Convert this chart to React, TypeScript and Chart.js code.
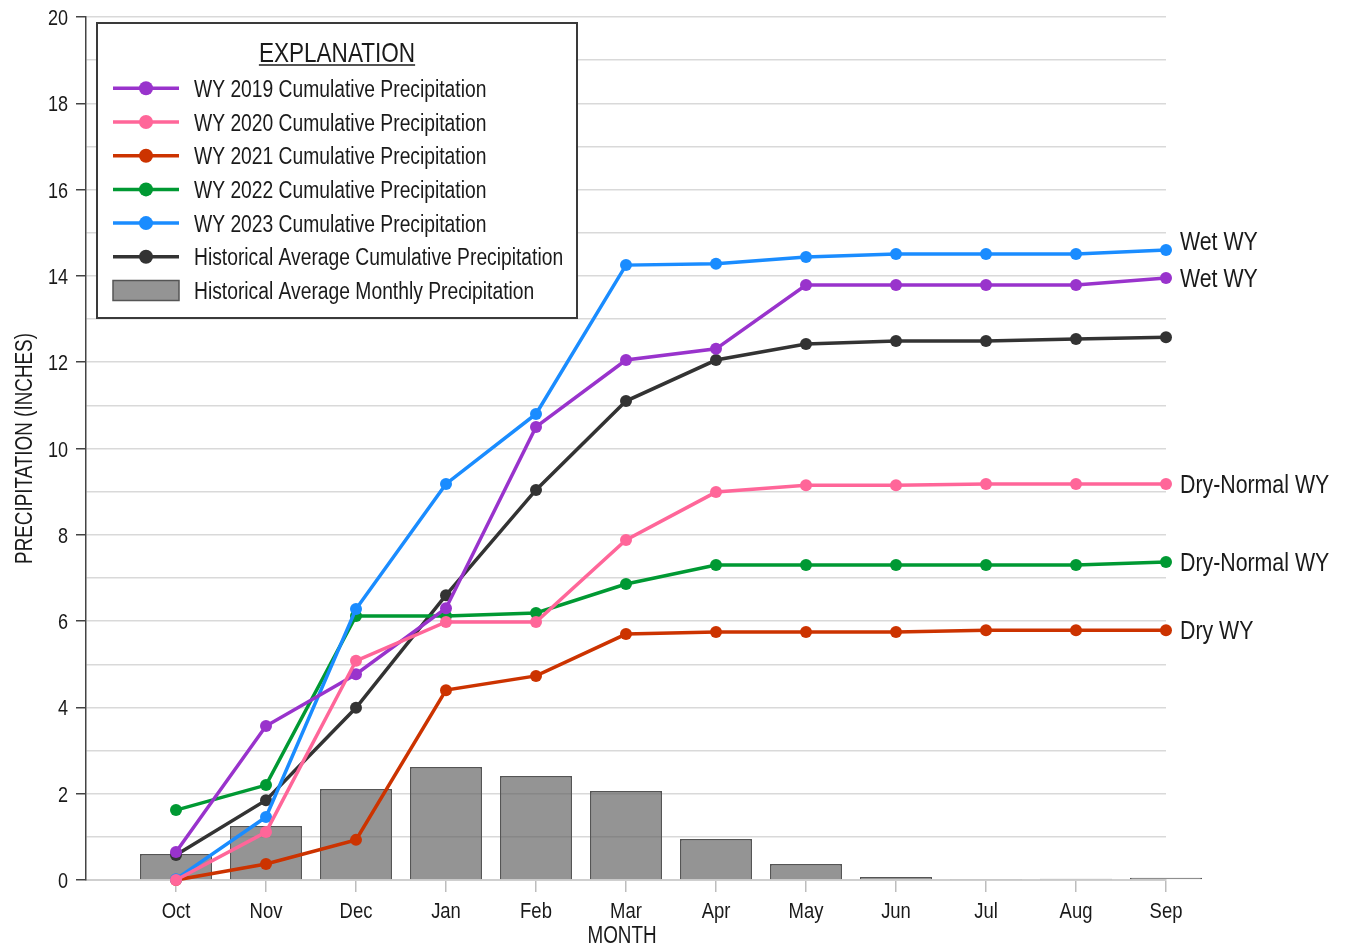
import React, { useEffect, useRef } from 'react';
import { Chart, registerables } from 'chart.js';

Chart.register(...registerables);

// ---- data ----
const months = ['Oct', 'Nov', 'Dec', 'Jan', 'Feb', 'Mar', 'Apr', 'May', 'Jun', 'Jul', 'Aug', 'Sep'];
const yTickLabels = ['0', '2', '4', '6', '8', '10', '12', '14', '16', '18', '20'];

const wy2019 = [0.65, 3.57, 4.77, 6.3, 10.5, 12.05, 12.31, 13.79, 13.79, 13.79, 13.79, 13.95];
const wy2020 = [0.0, 1.11, 5.08, 5.98, 5.98, 7.88, 8.99, 9.15, 9.15, 9.18, 9.18, 9.18];
const wy2021 = [0.0, 0.37, 0.93, 4.4, 4.73, 5.7, 5.75, 5.75, 5.75, 5.79, 5.79, 5.79];
const wy2022 = [1.62, 2.2, 6.12, 6.12, 6.19, 6.86, 7.3, 7.3, 7.3, 7.3, 7.3, 7.37];
const wy2023 = [0.02, 1.46, 6.28, 9.18, 10.8, 14.25, 14.28, 14.44, 14.51, 14.51, 14.51, 14.6];
const histCumulative = [0.58, 1.85, 3.99, 6.6, 9.04, 11.1, 12.05, 12.42, 12.49, 12.49, 12.54, 12.58];
const histMonthly = [0.6, 1.25, 2.11, 2.62, 2.41, 2.06, 0.95, 0.37, 0.07, 0.01, 0.03, 0.05];

const seriesLabels = [
  'WY 2019 Cumulative Precipitation',
  'WY 2020 Cumulative Precipitation',
  'WY 2021 Cumulative Precipitation',
  'WY 2022 Cumulative Precipitation',
  'WY 2023 Cumulative Precipitation',
  'Historical Average Cumulative Precipitation',
  'Historical Average Monthly Precipitation',
];

// water-year classification shown at the end of each yearly line
const yearClasses = ['Wet WY', 'Dry-Normal WY', 'Dry WY', 'Dry-Normal WY', 'Wet WY', '', ''];

// Liberation Sans squeezed horizontally gives Arial-Narrow proportions
const FONT = "'Liberation Sans', Arial, sans-serif";
const NARROW = 0.82;
const TEXT = '#1a1a1a';
const BAR_FILL = 'rgba(90,90,90,0.65)';
const BAR_EDGE = '#555555';

const colors = ['#9933cc', '#ff6699', '#cc3300', '#009933', '#1a8cff', '#333333'];
const drawOrder = [2, 1, 5, 4, 3, 6];

const toXY = (arr: number[]) => arr.map((v, i) => ({ x: i, y: v }));

function narrowText(
  ctx: CanvasRenderingContext2D,
  text: string,
  x: number,
  y: number,
  size: number,
  align: CanvasTextAlign = 'left',
  rotate = 0,
) {
  ctx.save();
  ctx.font = `${size}px ${FONT}`;
  ctx.fillStyle = TEXT;
  ctx.textAlign = align;
  ctx.textBaseline = 'alphabetic';
  ctx.translate(x, y);
  if (rotate) ctx.rotate(rotate);
  ctx.scale(NARROW, 1);
  ctx.fillText(text, 0, 0);
  const w = ctx.measureText(text).width * NARROW;
  ctx.restore();
  return w;
}

const overlayPlugin = {
  id: 'overlay',
  afterDraw(chart: any) {
    const { ctx, chartArea } = chart;
    const xs = chart.scales.x;
    const ys = chart.scales.y;
    ctx.save();

    // axis tick labels
    months.forEach((m, i) => {
      narrowText(ctx, m, xs.getPixelForValue(i), chartArea.bottom + 37.5, 22.5, 'center');
    });
    yTickLabels.forEach((t) => {
      narrowText(ctx, t, chartArea.left - 18, ys.getPixelForValue(Number(t)) + 8, 22, 'right');
    });

    // axis titles
    narrowText(ctx, 'MONTH', (chartArea.left + chartArea.right) / 2 - 4, chartArea.bottom + 63, 23, 'center');
    narrowText(
      ctx,
      'PRECIPITATION (INCHES)',
      32,
      (chartArea.top + chartArea.bottom) / 2,
      23,
      'center',
      -Math.PI / 2,
    );

    // classification labels beside the September points
    const tags: { text: string; x: number; y: number }[] = [];
    chart.data.datasets.forEach((ds: any, i: number) => {
      const cls = yearClasses[i];
      if (!cls) return;
      const meta = chart.getDatasetMeta(i);
      const pt = meta.data[meta.data.length - 1];
      tags.push({ text: cls, x: pt.x + 14, y: pt.y });
    });
    tags.sort((a, b) => b.y - a.y);
    for (let k = 1; k < tags.length; k++) {
      const below = tags[k - 1];
      if (below.y - tags[k].y < 37) tags[k].y = below.y - 37;
    }
    tags.forEach((t) => narrowText(ctx, t.text, t.x, t.y + 9, 26, 'left'));

    // explanation box
    const bx = chartArea.left + 11;
    const by = chartArea.top + 6;
    const bw = 480;
    const bh = 295;
    ctx.fillStyle = '#ffffff';
    ctx.fillRect(bx, by, bw, bh);
    ctx.strokeStyle = '#3a3a3a';
    ctx.lineWidth = 2;
    ctx.strokeRect(bx, by, bw, bh);

    const cx = bx + bw / 2;
    const tw = narrowText(ctx, 'EXPLANATION', cx, by + 39, 27.5, 'center');
    ctx.strokeStyle = TEXT;
    ctx.lineWidth = 1.5;
    ctx.beginPath();
    ctx.moveTo(cx - tw / 2, by + 42);
    ctx.lineTo(cx + tw / 2, by + 42);
    ctx.stroke();

    const rowStart = by + 65.3;
    const rowStep = 33.7;
    const sx0 = bx + 16;
    const sx1 = bx + 82;
    chart.data.datasets.forEach((ds: any, i: number) => {
      const y = rowStart + i * rowStep;
      if (ds.type === 'bar') {
        ctx.fillStyle = BAR_FILL;
        ctx.fillRect(sx0, y - 10, sx1 - sx0, 20);
        ctx.strokeStyle = BAR_EDGE;
        ctx.lineWidth = 1.5;
        ctx.strokeRect(sx0, y - 10, sx1 - sx0, 20);
      } else {
        ctx.strokeStyle = ds.borderColor;
        ctx.lineWidth = 3.5;
        ctx.beginPath();
        ctx.moveTo(sx0, y);
        ctx.lineTo(sx1, y);
        ctx.stroke();
        ctx.fillStyle = ds.borderColor;
        ctx.beginPath();
        ctx.arc((sx0 + sx1) / 2, y, 7, 0, Math.PI * 2);
        ctx.fill();
      }
      narrowText(ctx, ds.label, bx + 97, y + 8.5, 23.5, 'left');
    });

    ctx.restore();
  },
};

export default function App() {
  const canvasRef = useRef<HTMLCanvasElement | null>(null);

  useEffect(() => {
    const canvas = canvasRef.current;
    if (!canvas) return;

    const yearly = [wy2019, wy2020, wy2021, wy2022, wy2023, histCumulative];
    const lineSets = yearly.map((arr, i) => ({
      type: 'line' as const,
      label: seriesLabels[i],
      data: toXY(arr),
      borderColor: colors[i],
      backgroundColor: colors[i],
      pointBackgroundColor: colors[i],
      pointBorderWidth: 0,
      pointRadius: 6,
      borderWidth: 3.5,
      tension: 0,
      clip: false as const,
      order: drawOrder[i],
    }));

    const chart = new Chart(canvas, {
      type: 'line',
      data: {
        datasets: [
          ...lineSets,
          {
            type: 'bar' as const,
            label: seriesLabels[6],
            data: toXY(histMonthly),
            backgroundColor: BAR_FILL,
            borderColor: BAR_EDGE,
            borderWidth: 1.5,
            barPercentage: 0.8,
            categoryPercentage: 1,
            clip: false as const,
            order: 10,
          } as any,
        ],
      },
      options: {
        responsive: false,
        animation: false,
        layout: { padding: { top: 17, right: 182, left: 0, bottom: 0 } },
        plugins: {
          legend: { display: false },
          tooltip: { enabled: false },
        },
        scales: {
          x: {
            type: 'linear',
            min: -1,
            max: 11,
            offset: false,
            afterBuildTicks: (scale: any) => {
              scale.ticks = months.map((_, i) => ({ value: i }));
            },
            afterFit: (scale: any) => {
              scale.height = 67;
            },
            ticks: { display: false },
            grid: {
              display: true,
              drawOnChartArea: false,
              drawTicks: true,
              tickLength: 12,
              tickColor: '#bdbdbd',
              lineWidth: 1.5,
              offset: false,
            },
            border: { display: true, color: '#cfcfcf', width: 2 },
          },
          y: {
            type: 'linear',
            min: 0,
            max: 20,
            afterBuildTicks: (scale: any) => {
              const t = [];
              for (let v = 0; v <= 20; v++) t.push({ value: v });
              scale.ticks = t;
            },
            afterFit: (scale: any) => {
              scale.width = 86;
            },
            ticks: { display: false },
            grid: {
              color: '#d9d9d9',
              lineWidth: 1.5,
              drawTicks: true,
              tickLength: 10,
              tickColor: (c: any) => (c.tick && c.tick.value % 2 === 0 ? '#444444' : 'rgba(0,0,0,0)'),
            },
            border: { display: true, color: '#444444', width: 1.5 },
          },
        },
      },
      plugins: [overlayPlugin],
    });

    return () => chart.destroy();
  }, []);

  return (
    <div style={{ position: 'absolute', left: 0, top: 0, width: 1348, height: 947, background: '#ffffff' }}>
      <canvas ref={canvasRef} width={1348} height={947} style={{ display: 'block' }} />
    </div>
  );
}
